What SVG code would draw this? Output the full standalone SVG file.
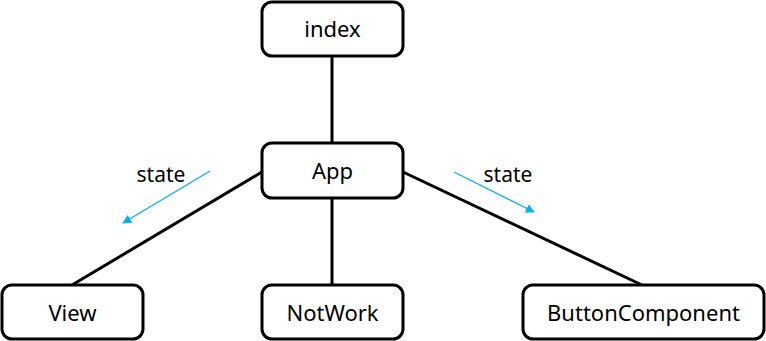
<svg xmlns="http://www.w3.org/2000/svg" width="766" height="341" viewBox="0 0 766 341">
<style>
.node rect{fill:#fff;stroke:#000;stroke-width:3}
.node text,.lbl{font-family:"Noto Sans","Open Sans",sans-serif;fill:#000;text-anchor:middle}
.node text{font-size:22px}
.lbl{font-size:21px}
.edge{stroke:#000;stroke-width:3;fill:none}
.flow{stroke:#00B0F0;stroke-width:1.3;fill:none}
</style>
<defs>
<marker id="ah" viewBox="0 0 10 10" refX="9" refY="5" markerWidth="9" markerHeight="9" markerUnits="userSpaceOnUse" orient="auto">
<path d="M0,0 L10,5 L0,10 z" fill="#00B0F0"/>
</marker>
</defs>
<g id="connectors">
<line class="edge" x1="332" y1="56" x2="332" y2="143"/>
<line class="edge" x1="332" y1="198" x2="332" y2="285"/>
<line class="edge" x1="262" y1="172" x2="72" y2="285"/>
<line class="edge" x1="403" y1="172" x2="642" y2="285"/>
<line class="flow" x1="210" y1="171" x2="123" y2="223" marker-end="url(#ah)"/>
<line class="flow" x1="454" y1="172" x2="534" y2="212" marker-end="url(#ah)"/>
<text class="lbl" x="161" y="182">state</text>
<text class="lbl" x="508" y="182">state</text>
</g>
<g id="index" class="node"><rect x="262" y="2" width="141" height="54" rx="10"/><text x="332.5" y="37">index</text></g>
<g id="App" class="node"><rect x="262" y="143" width="141" height="55" rx="10"/><text x="332.5" y="179">App</text></g>
<g id="View" class="node"><rect x="2" y="285" width="141" height="54" rx="10"/><text x="72.5" y="321">View</text></g>
<g id="NotWork" class="node"><rect x="262" y="285" width="141" height="54" rx="10"/><text x="332.5" y="321">NotWork</text></g>
<g id="ButtonComponent" class="node"><rect x="523" y="285" width="241" height="54" rx="10"/><text x="643.5" y="321">ButtonComponent</text></g>
</svg>
